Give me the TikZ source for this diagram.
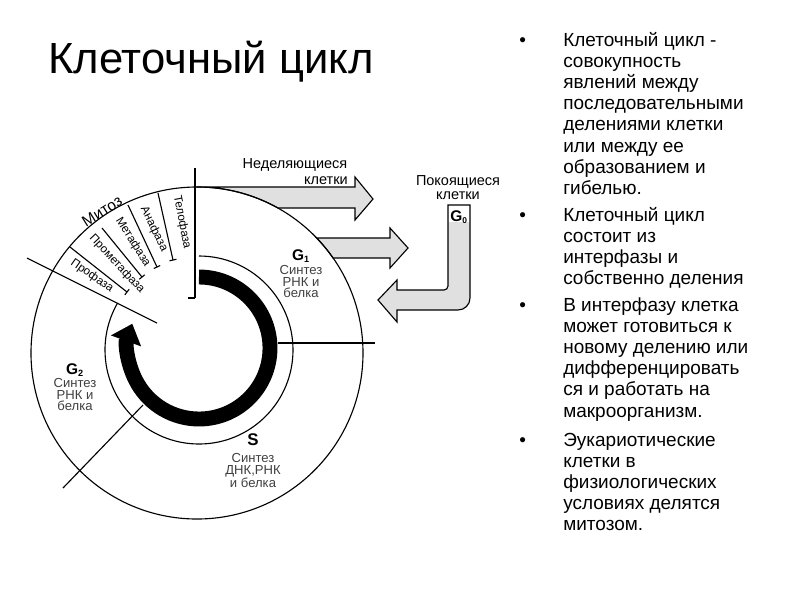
\documentclass[tikz,border=0pt]{standalone}
\usepackage{fontspec}
\setmainfont{Liberation Sans}
\usetikzlibrary{arrows.meta,calc}
\begin{document}
\begin{tikzpicture}[x=0.025cm,y=-0.025cm,
  bl/.style={anchor=base west,inner sep=0pt,font=\fontsize{13.5}{15}\selectfont},
  ph/.style={inner sep=0pt,font=\fontsize{8.3}{9}\selectfont},
  lab/.style={inner sep=0pt,font=\fontsize{9.3}{8.3}\selectfont,text=black!75,align=center},
  gl/.style={inner sep=0pt,font=\bfseries\fontsize{11}{11}\selectfont},
  captext/.style={inner sep=0pt,font=\fontsize{10.3}{10}\selectfont},
  arr/.style={fill=black!12,draw=black,line width=0.8pt,line join=miter},
  thin/.style={line width=0.8pt}]
\useasboundingbox (0,0) rectangle (800,600);
\node[anchor=west,inner sep=0pt,font=\fontsize{31}{33}\selectfont] (title) at (48,62) {Клеточный цикл};
% bullets
\foreach \t [count=\i] in {Клеточный цикл -,совокупность,явлений между,последовательными,делениями клетки,или между ее,образованием и,гибелью.}
  \node[bl] (a\i) at (563,{46+21.2*(\i-1)}) {\t};
\foreach \t [count=\i] in {Клеточный цикл,состоит из,интерфазы и,собственно деления}
  \node[bl] (b\i) at (563,{221+21.2*(\i-1)}) {\t};
\foreach \t [count=\i] in {В интерфазу клетка,может готовиться к,новому делению или,дифференцировать,ся и работать на,макроорганизм.}
  \node[bl] (c\i) at (563,{311+21.2*(\i-1)}) {\t};
\foreach \t [count=\i] in {Эукариотические,клетки в,физиологических,условиях делятся,митозом.}
  \node[bl] (d\i) at (563,{446+21.2*(\i-1)}) {\t};
\foreach \y/\n in {46/p1,221/p2,311/p3,446/p4}
  \node[bl] (\n) at (519,\y) {•};
% arrows
\draw[arr] (197,187) -- (355,187) -- (355,177) -- (373,199) -- (355,220) -- (355,208) -- (278,208) arc (-60.8:-90:166) -- cycle;
\draw[arr] (317,238) -- (390,238) -- (390,228) -- (408,248) -- (390,268) -- (390,258) -- (333,258) arc (-34.9:-43.9:166) -- cycle;
\fill[black!12] (448,222) -- (470,222) -- (470,298) arc (0:90:12) -- (397,310) -- (397,322) -- (378,300) -- (397,280) -- (397,290) -- (444,290) arc (90:0:4) -- cycle;
\draw[line width=0.8pt] (448,205) -- (470,205) -- (470,298) arc (0:90:12) -- (397,310) -- (397,322) -- (378,300) -- (397,280) -- (397,290) -- (444,290) arc (90:0:4) -- cycle;
\node[captext] (nd1) at (295,165) {Неделяющиеся};
\node[captext,anchor=east] (nd2) at (348,181) {клетки};
\node[captext] (pk1) at (458,182) {Покоящиеся};
\node[captext] (pk2) at (458,196) {клетки};
\node[gl] (g0) at (459,217) {G\textsubscript{\fontsize{6}{6}\selectfont 0}};
% circles
\coordinate (c) at (197,353);
\draw[thin] (c) circle (166);
\draw[thin] (199,350) ++(-90:94) arc (-90:210:94);
% black ring
\draw[line width=10.6pt,-{Triangle[length=13pt,width=22pt]}] (199,348) ++(-90:71) arc (-90:200:71);
% radial lines
\draw[thin] (195,168) -- (195,298);
\draw[thin] (195,298) -- (188,298);
\draw[thin] (278,343) -- (375,343);
\draw[thin] (143,405) -- (63,488);
\draw[thin] (27,258) -- (157,323);
% mitosis sub-lines with ticks
\foreach \ax/\ay/\bx/\by [count=\i] in {70/247/127/292, 102/228/142/277, 128/205/157/267, 158/193/173/260}{
  \draw[thin] (\ax,\ay) -- (\bx,\by) coordinate (e\i);
  \draw[thin] ($(e\i)!2.5pt!90:(\ax,\ay)$) -- ($(e\i)!2.5pt!-90:(\ax,\ay)$);
}
\node[ph,rotate=-35] (pr) at (92,276) {Профаза};
\node[ph,rotate=-47] (prm) at (117,264) {Прометафаза};
\node[ph,rotate=-58] (mt) at (133,242) {Метафаза};
\node[ph,rotate=-64] (an) at (154,229) {Анафаза};
\node[ph,rotate=-79] (tl) at (182,222) {Телофаза};
\node[inner sep=0pt,font=\fontsize{11}{11}\selectfont,rotate=32] (mitoz) at (102,211) {Митоз};
% phase labels
\node[gl] (g1) at (301,256) {G\textsubscript{\fontsize{6.5}{6}\selectfont 1}};
\node[lab,anchor=north] (g1t) at (301,265) {Синтез\\РНК и\\белка};
\node[gl] (g2) at (75,370) {G\textsubscript{\fontsize{6.5}{6}\selectfont 2}};
\node[lab,anchor=north] (g2t) at (75,378) {Синтез\\РНК и\\белка};
\node[gl,font=\bfseries\fontsize{12}{12}\selectfont] (s) at (253,440) {S};
\node[lab,anchor=north] (st) at (253,453) {Синтез\\ДНК,РНК\\и белка};
\end{tikzpicture}
\end{document}
